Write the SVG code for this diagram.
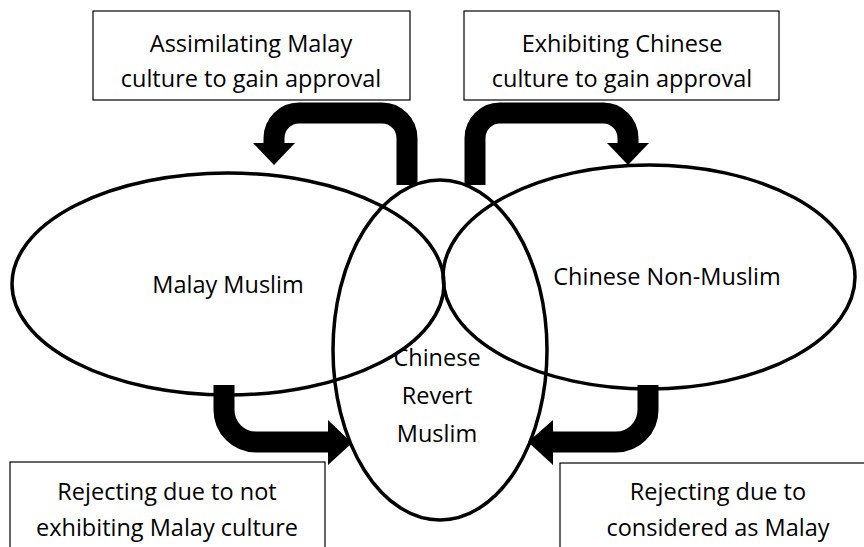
<svg xmlns="http://www.w3.org/2000/svg" width="864" height="547" viewBox="0 0 864 547">
<style>
.box{fill:#fff;stroke:#000;stroke-width:1.2}
.ell{fill:none;stroke:#000;stroke-width:3.5}
.t{font-family:"Open Sans","Liberation Sans",sans-serif;font-size:23.5px;fill:#000;text-anchor:middle}
.sh{fill:none;stroke:#000;stroke-width:21}
.hd{fill:#000}
</style>
<rect width="864" height="547" fill="#fff"/>
<g id="box-assimilating">
<rect class="box" x="93" y="11" width="317" height="89"/>
<text class="t" x="251" y="52">Assimilating Malay</text>
<text class="t" x="251" y="87">culture to gain approval</text>
</g>
<g id="box-exhibiting">
<rect class="box" x="464" y="11" width="315" height="89"/>
<text class="t" x="622" y="52">Exhibiting Chinese</text>
<text class="t" x="622" y="87">culture to gain approval</text>
</g>
<g id="box-reject-left">
<rect class="box" x="10" y="462" width="315" height="90"/>
<text class="t" x="167" y="500">Rejecting due to not</text>
<text class="t" x="167" y="536">exhibiting Malay culture</text>
</g>
<g id="box-reject-right">
<rect class="box" x="560" y="463" width="310" height="90"/>
<text class="t" x="718" y="500">Rejecting due to</text>
<text class="t" x="718" y="536">considered as Malay</text>
</g>
<g id="connectors">
<path class="sh" d="M407,185 V138 A25,25 0 0 0 382,113 H299 A25,25 0 0 0 274,138 V145"/>
<polygon class="hd" points="253,143 295,143 274,165"/>
<path class="sh" d="M475,185 V138 A25,25 0 0 1 500,113 H603 A25,25 0 0 1 628,138 V145"/>
<polygon class="hd" points="607,143 649,143 628,165"/>
<path class="sh" d="M224,385 V410 A32,32 0 0 0 256,442 H330"/>
<polygon class="hd" points="328,420 328,465 352,443"/>
<path class="sh" d="M648,385 V410 A32,32 0 0 1 616,442 H551"/>
<polygon class="hd" points="553,420 553,465 528,442"/>
</g>
<g id="malay-muslim">
<ellipse class="ell" cx="228" cy="284" rx="216" ry="111"/>
<text class="t" x="228" y="293">Malay Muslim</text>
</g>
<g id="chinese-non-muslim">
<ellipse class="ell" cx="649" cy="277" rx="206" ry="112"/>
<text class="t" x="667" y="285">Chinese Non-Muslim</text>
</g>
<g id="chinese-revert-muslim">
<ellipse class="ell" cx="440" cy="350" rx="107" ry="170"/>
<text class="t" x="437" y="366">Chinese</text>
<text class="t" x="437" y="404">Revert</text>
<text class="t" x="437" y="442">Muslim</text>
</g>
</svg>
